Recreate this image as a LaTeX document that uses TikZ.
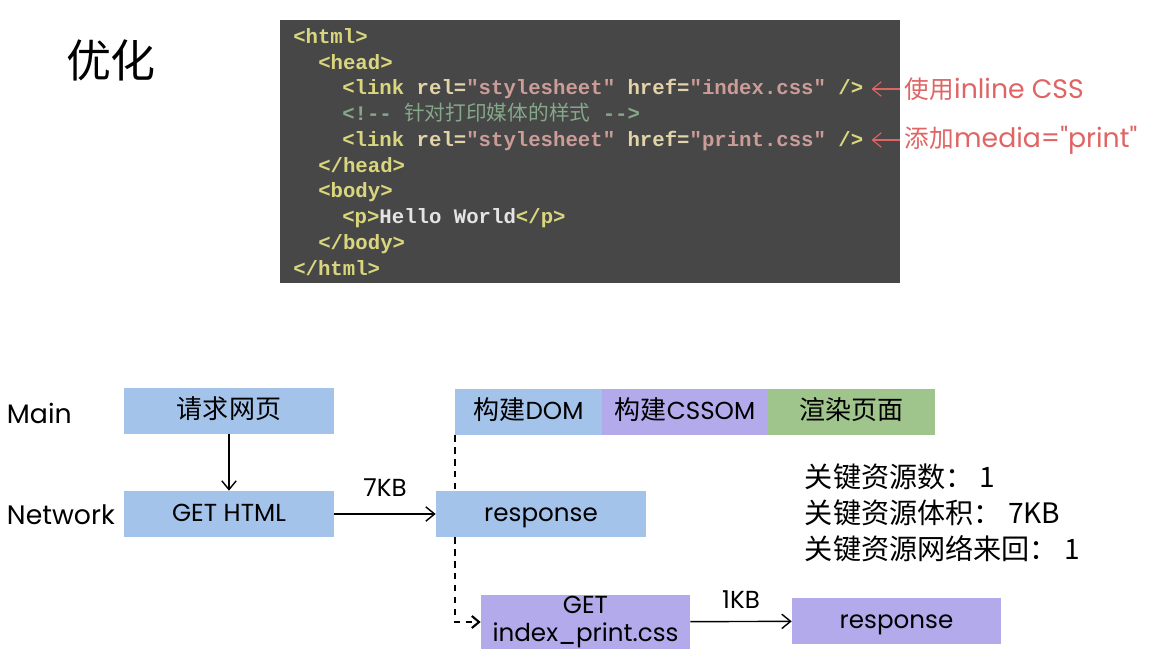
\documentclass[tikz,border=0pt]{standalone}
\usepackage{fontspec}
\setmainfont{Poppins}
\newfontfamily\sansfont{Poppins}
\newfontfamily\cjk{Noto Sans CJK SC}
\newfontfamily\codefont{Liberation Mono}
\usetikzlibrary{arrows.meta}

\definecolor{codebg}{HTML}{474747}
\definecolor{tagc}{HTML}{DAD67E}
\definecolor{attrc}{HTML}{E2D4A8}
\definecolor{strc}{HTML}{CB9C98}
\definecolor{cmtc}{HTML}{85A88A}
\definecolor{txtc}{HTML}{E4E4E4}
\definecolor{notered}{HTML}{E06464}
\definecolor{boxblue}{HTML}{A4C3EA}
\definecolor{boxpurple}{HTML}{B2AAEA}
\definecolor{boxgreen}{HTML}{A0C58C}

\newcommand{\ctag}[1]{\textcolor{tagc}{#1}}
\newcommand{\cattr}[1]{\textcolor{attrc}{#1}}
\newcommand{\cstr}[1]{\textcolor{strc}{#1}}
\newcommand{\ccmt}[1]{\textcolor{cmtc}{#1}}
\newcommand{\zh}[2]{{\cjk\fontsize{#1}{#1}\selectfont #2}}

\begin{document}
\begin{tikzpicture}[x=0.025cm, y=-0.025cm,
  code/.style={anchor=base west, inner sep=0pt, font=\codefont\bfseries\fontsize{14.7}{17}\selectfont},
  note/.style={anchor=west, text=notered, font=\sansfont\fontsize{19}{22}\selectfont},
  note arrow/.style={draw=notered, thick, -{Straight Barb[length=2.2mm, width=3.6mm]}, shorten >=2mm},
  lane/.style={anchor=west, font=\sansfont\fontsize{19}{22}\selectfont},
  box/.style={minimum height=1.15cm, inner sep=0pt, text height=12pt, text depth=1pt,
    font=\sansfont\fontsize{17.5}{20}\selectfont},
  bluebox/.style={box, fill=boxblue, minimum width=5.25cm},
  purplebox/.style={box, fill=boxpurple},
  greenbox/.style={box, fill=boxgreen},
  flow/.style={line width=1pt, -{Straight Barb[length=2.2mm, width=3.6mm]}},
  wait/.style={line width=1.5pt, dash pattern=on 4.5pt off 4pt, -{Straight Barb[length=1.8mm, width=3mm]}},
  ]
  \fill[white] (0,0) rectangle (1160,652);
  \useasboundingbox (0,0) rectangle (1160,652);

  % title
  \node (title) at (111,60) {\zh{32}{优化}};

  % code panel
  \fill[codebg] (280,20) rectangle (900,283);
  \node[code] (l1) at (293,43) {\ctag{<html>}};
  \node[code] (l2) at (318,69) {\ctag{<head>}};
  \node[code] (l3) at (342,94) {\ctag{<link} \cattr{rel=}\cstr{"stylesheet"} \cattr{href=}\cstr{"index.css"} \ctag{/>}};
  \node[code] (l4) at (342,120) {\ccmt{<!-\kern0pt- {\cjk\mdseries 针对打印媒体的样式} -\kern0pt->}};
  \node[code] (l5) at (342,146) {\ctag{<link} \cattr{rel=}\cstr{"stylesheet"} \cattr{href=}\cstr{"print.css"} \ctag{/>}};
  \node[code] (l6) at (318,172) {\ctag{</head>}};
  \node[code] (l7) at (318,197) {\ctag{<body>}};
  \node[code] (l8) at (342,223) {\ctag{<p>}\textcolor{txtc}{Hello World}\ctag{</p>}};
  \node[code] (l9) at (318,249) {\ctag{</body>}};
  \node[code] (l10) at (293,275) {\ctag{</html>}};

  % notes
  \node[note] (noteA) at (900,89) {\zh{17.5}{使用}inline CSS};
  \node[note] (noteB) at (900,140) {\zh{17.5}{添加}media="print"};
  \draw[note arrow] (noteA.west) -- (noteA.west -| l3.east);
  \draw[note arrow] (noteB.west) -- (noteB.west -| l5.east);

  % lanes
  \node[lane] (main) at (2,413) {Main};
  \node[lane] (net) at (2,515) {Network};

  \node[bluebox] (req) at (229,410.5) {\zh{18.5}{请求网页}};
  \node[bluebox] (gethtml) at (229,514) {GET HTML};
  \node[bluebox] (resp) at (541,514) {response};
  \node[box, fill=boxblue, minimum width=3.675cm] (dom) at (528.5,412) {\zh{18.5}{构建}DOM};
  \node[purplebox, minimum width=4.15cm] (cssom) at (685,412) {\zh{18.5}{构建}CSSOM};
  \node[greenbox, minimum width=4.175cm] (render) at (851.5,412) {\zh{18.5}{渲染页面}};
  \node[purplebox, minimum width=5.225cm, minimum height=1.35cm, text height={}, text depth={},
    align=center] (getcss) at (585.5,622) {GET\\index\_print.css};
  \node[purplebox, minimum width=5.225cm] (resp2) at (896.5,621) {response};

  \node[anchor=west, align=left, font=\cjk\fontsize{20}{25.6}\selectfont] (stats) at (800,513)
    {关键资源数： 1\\关键资源体积： 7KB\\关键资源网络来回： 1};

  % connectors
  \draw[flow] (req) -- (gethtml);
  \draw[flow] (gethtml) -- node[above=3mm, font=\sansfont\fontsize{17.5}{20}\selectfont] (kb7) {7KB} (resp);
  \draw[flow] (getcss) -- node[above=2mm, font=\sansfont\fontsize{17.5}{20}\selectfont] (kb1) {1KB} (resp2);
  \draw[wait, -] (dom.south west) -- (dom.south west |- resp.north);
  \draw[wait] (dom.south west |- resp.south) -- (dom.south west |- getcss.west) -- (getcss.west);
\end{tikzpicture}
\end{document}
